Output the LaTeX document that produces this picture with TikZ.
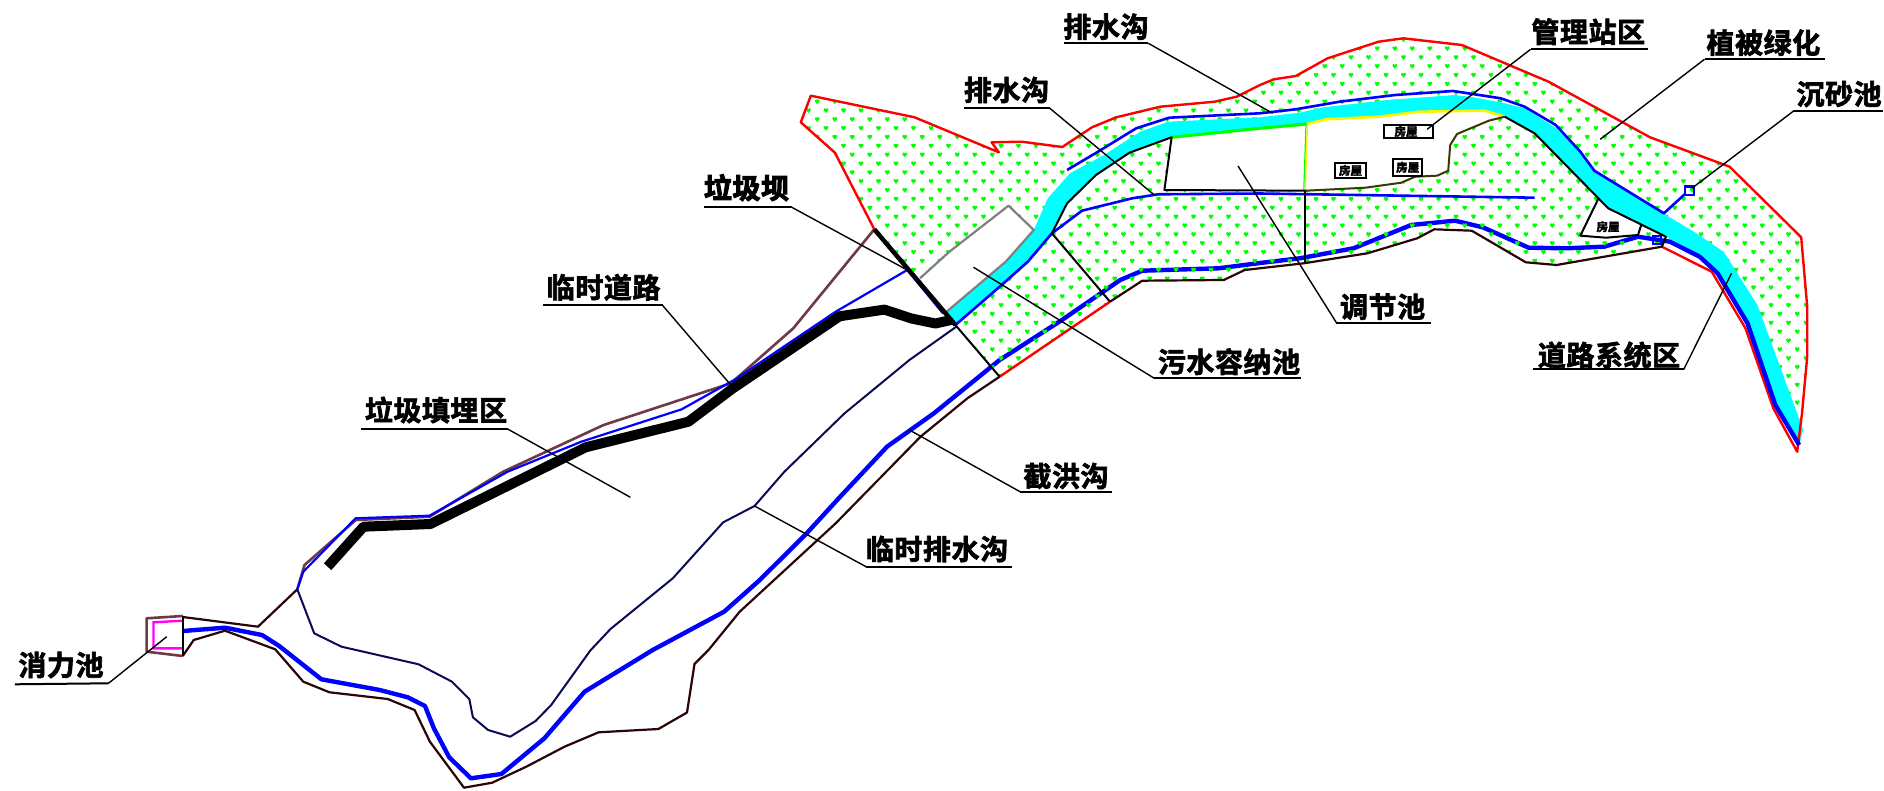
\documentclass[tikz,border=0pt]{standalone}
\usepackage{fontspec}
\newfontfamily\cjk[LetterSpace=2,FakeBold=2.4]{Noto Sans CJK SC Bold}
\newfontfamily\cjkheavy[LetterSpace=2,FakeBold=4]{Noto Sans CJK SC Bold}
\newfontfamily\cjksmall[FakeBold=3.5]{Noto Sans CJK SC Bold}
\definecolor{pgreen}{HTML}{00FF00}
\definecolor{pblue}{HTML}{0000FF}
\definecolor{pcyan}{HTML}{00FFFF}
\definecolor{pred}{HTML}{FF0000}
\definecolor{pbrown}{HTML}{6E3A46}
\definecolor{pdark}{HTML}{2A0505}
\definecolor{pnavy}{HTML}{0A0A55}
\definecolor{pmag}{HTML}{FF00FF}
\definecolor{pgrey}{HTML}{808080}
\definecolor{polive}{HTML}{3A3A00}
\tikzset{
  lab/.style={font=\cjk\fontsize{28}{28}\selectfont,inner sep=0pt,anchor=center},
  housetxt/.style={font=\cjksmall\fontsize{11.5}{11.5}\selectfont,inner sep=0pt},
  leader/.style={draw=black,line width=1.4pt,line join=round},
  under/.style={draw=black,line width=2pt},
  thinblue/.style={draw=pblue,line width=2.2pt,line join=round},
  thickblue/.style={draw=pblue,line width=4.4pt,line join=round},
  redline/.style={draw=pred,line width=2.4pt,line join=round},
  brownline/.style={draw=pbrown,line width=2.6pt,line join=round},
  darkline/.style={draw=pdark,line width=2.2pt,line join=round},
  navyline/.style={draw=pnavy,line width=2pt,line join=round},
  blackline/.style={draw=black,line width=2pt,line join=round},
  greyline/.style={draw=pgrey,line width=2.2pt,line join=round},
  housebox/.style={draw=black,line width=2.2pt,fill=white},
}
% name, text x, text y, text, shelf start, shelf end, tip
\newcommand{\callout}[7]{%
  \node[lab] (#1) at (#2,#3) {#4};
  \coordinate (#1-s) at (#5);
  \coordinate (#1-e) at (#6);
  \coordinate (#1-t) at (#7);
  \draw[leader] (#1-e) -- (#1-t);
  \draw[under] (#1-s) -- (#1-e);
}
\begin{document}
\begin{tikzpicture}[x=1pt,y=-1pt]
\useasboundingbox (0,0) rectangle (1884,791);
\fill[white] (0,0) rectangle (1884,791);

% main interception drain lies under the planting dots
\draw[thickblue] (182.8,631) -- (225,627.7) -- (262,635) -- (279.2,646) -- (321.4,679.3) -- (379.7,690) -- (407.8,697.3) -- (425,706) -- (433.9,728.3) -- (449.2,757.3) -- (470.9,778.3) -- (501.4,774) -- (544.4,738.3) -- (584.6,691.7) -- (652.7,650) -- (724.1,611.7) -- (759.8,580) -- (806.7,533.3) -- (840.2,496.7) -- (887,446.7) -- (933.9,413.3) -- (999.6,360) -- (1061.9,320) -- (1120.2,280) -- (1142.3,270.7) -- (1218.6,268.3) -- (1260,263) -- (1299.8,258.3) -- (1353.5,248.3) -- (1411.2,225) -- (1455,220.7) -- (1482.8,227.3) -- (1528.6,247.7) -- (1566.4,248.3) -- (1604.2,246.7) -- (1638,236.7);

% green dotted planted area
\begin{scope}
\clip (874.3,229.3) -- (834.9,152.7) -- (800.8,122.3) -- (810.8,95.7) -- (914.5,117.3) -- (998.8,152.3) -- (991.6,142.3) -- (1021.7,141.7) -- (1062.3,147) -- (1092,127.3) -- (1116.2,117.3) -- (1160.3,106.7) -- (1214.6,101.7) -- (1236.7,96.7) -- (1260,85) -- (1273.9,79.3) -- (1295.8,76) -- (1327.6,58.3) -- (1378.6,41.7) -- (1403.3,38.3) -- (1461.8,45) -- (1548.5,81.7) -- (1650,137.3) -- (1729.6,166.7) -- (1801.2,237.3) -- (1807.2,306.7) -- (1807.2,356.7) -- (1802,413.3) -- (1799.2,445) -- (1775.3,405) -- (1747.5,323.3) -- (1717.6,273.3) -- (1699.7,256.7) -- (1661.9,240) -- (1661.9,246.7) -- (1556.5,265) -- (1525.8,262.3) -- (1471.7,230.7) -- (1434.3,229.3) -- (1417.2,238.3) -- (1367.4,253.3) -- (1303.8,263.3) -- (1244.7,270) -- (1223.8,280) -- (1142.3,280.7) -- (1110,301.7) -- (999.6,376.7) -- (955.4,325) -- cycle;
\fill[pgreen]
  \foreach \r in {-4,...,44}{
    \foreach \c in {-40,...,19}{
      ({1491+17.5*\c+8.75*mod(\r+40,2)},{75+8.85*\r}) ++(-2.4,-1.2) -- ++(1.2,-1) -- ++(1.2,0.8) -- ++(1.2,-0.8) -- ++(1.2,1) -- ++(-0.4,1.5) -- ++(-2,2.3) -- ++(-2,-2.3) -- cycle
    }
  };
\end{scope}

% white holes: sewage pond, regulating pond and station area, house plot
\fill[white] (920,278.3) -- (949.4,251.7) -- (1008.5,205.7) -- (1033.8,230) -- (1005.7,261.7) -- (946.6,311.7) -- cycle;
\fill[white] (1171.6,137.3) -- (1307,124) -- (1325.7,119.3) -- (1379.4,116.7) -- (1419.2,111.7) -- (1484.8,110.7) -- (1504.7,116.7) -- (1488.8,120.7) -- (1457,134) -- (1450.2,145) -- (1448.2,170.7) -- (1437.1,175.7) -- (1415.2,176.7) -- (1401.3,182.7) -- (1365.5,187.7) -- (1305.8,190.7) -- (1164.4,190) -- cycle;
\fill[white] (1598.2,199) -- (1580.3,235.7) -- (1606.2,237.7) -- (1638,235) -- (1641.2,225) -- (1608.2,208.3) -- cycle;

% road system
\fill[pcyan] (946.6,311.7) -- (1005.7,261.7) -- (1033.8,230) -- (1047.8,198.3) -- (1069.9,173.3) -- (1104.1,155) -- (1140.2,131.7) -- (1168.4,121.7) -- (1260,117.3) -- (1299.8,112.7) -- (1323.7,107.3) -- (1387.3,100) -- (1455,95) -- (1472.9,97.3) -- (1502.7,102.7) -- (1524.6,108.3) -- (1556.5,128.3) -- (1580.3,153.3) -- (1596.3,171.7) -- (1618.1,186.7) -- (1665.9,215) -- (1693.8,231.7) -- (1723.6,251.7) -- (1757.4,305) -- (1803.2,430) -- (1799.2,445) -- (1775.3,405) -- (1747.5,323.3) -- (1717.6,273.3) -- (1699.7,256.7) -- (1665.9,236.7) -- (1608.2,208.3) -- (1534.6,133.3) -- (1504.7,116.7) -- (1484.8,110.7) -- (1419.2,111.7) -- (1379.4,116.7) -- (1325.7,119.3) -- (1307,124) -- (1260,128.3) -- (1171.6,137.3) -- (1129.4,152.7) -- (1096,175) -- (1067.1,203.3) -- (1051.9,233.3) -- (1027.8,261.7) -- (1001.6,285) -- (955.4,325) -- cycle;

% outer boundaries
\draw[redline] (874.3,229.3) -- (834.9,152.7) -- (800.8,122.3) -- (810.8,95.7) -- (914.5,117.3) -- (998.8,152.3) -- (991.6,142.3) -- (1021.7,141.7) -- (1062.3,147) -- (1092,127.3) -- (1116.2,117.3) -- (1160.3,106.7) -- (1214.6,101.7) -- (1236.7,96.7) -- (1260,85) -- (1273.9,79.3) -- (1295.8,76) -- (1327.6,58.3) -- (1378.6,41.7) -- (1403.3,38.3) -- (1461.8,45) -- (1548.5,81.7) -- (1650,137.3) -- (1729.6,166.7) -- (1801.2,237.3) -- (1807.2,306.7) -- (1807.2,356.7) -- (1802,413.3) -- (1797.2,451.7) -- (1773.3,408.3) -- (1745.5,328.3) -- (1711.7,271.7) -- (1661.9,246.7);
\draw[darkline] (1661.9,246.7) -- (1556.5,265) -- (1525.8,262.3) -- (1471.7,230.7) -- (1434.3,229.3) -- (1417.2,238.3) -- (1367.4,253.3) -- (1303.8,263.3) -- (1244.7,270) -- (1223.8,280) -- (1142.3,280.7) -- (1110,301.7);
\draw[redline] (1110,301.7) -- (999.6,376.7);
\draw[darkline] (999.6,376.7) -- (967.4,398.3) -- (920.5,436.7) -- (835.7,523.3) -- (739.7,611.7) -- (708.5,650) -- (694.5,664) -- (687,712.5) -- (658.4,729) -- (598.6,732.3) -- (564.5,746.7) -- (526.3,766.7) -- (492.2,782.7) -- (464,787.7) -- (429.9,741.7) -- (414.6,710) -- (387.7,699) -- (329.5,692.3) -- (303.3,681.7) -- (275.2,649.3) -- (225,630.7) -- (193.7,640) -- (182.8,656);
\draw[darkline] (182.8,617) -- (258,626.7) -- (297.3,589.3);
\draw[brownline] (297.3,589.3) -- (304.5,565) -- (355.8,520) -- (429.5,516.7) -- (503.1,471.7) -- (603.6,425) -- (730.8,383.3) -- (793.3,328.3) -- (874.3,229.3);

% energy dissipation basin
\draw[brownline] (182.8,616) -- (146.6,618.3) -- (146.6,651.7) -- (182.8,656);
\draw[draw=pmag,line width=2.4pt] (182.8,620.7) -- (153.5,622.3) -- (153.5,648.3) -- (182.8,648.3);
\draw[blackline] (182.8,616) -- (182.8,656);

% drains
\draw[thinblue] (297.3,589.3) -- (303.3,571.7) -- (355.6,518.3) -- (429.5,515.7) -- (507.6,471.7) -- (581.3,441.7) -- (681.7,409.3) -- (735.3,379.3) -- (835.7,311.7) -- (907.2,270) -- (942.9,313.3);
\draw[thickblue] (1638,236.7) -- (1669.9,241.7) -- (1699.7,256.7) -- (1717.6,273.3) -- (1747.5,323.3) -- (1775.3,405) -- (1799.2,445);
\draw[thinblue,line width=2.6pt] (1067.1,170) -- (1098,151.7) -- (1136.2,128.3) -- (1169.2,117.7) -- (1260,113.3) -- (1295.8,109.3) -- (1339.6,101.7) -- (1395.3,95) -- (1453,91) -- (1500.7,98.3) -- (1524.6,106.7) -- (1555.7,125) -- (1580.3,151.7) -- (1594.3,170.7) -- (1663.9,213.3) -- (1685.8,193.3);
\draw[thinblue,line width=2.6pt] (955.4,325) -- (1001.6,285) -- (1027.8,261.7) -- (1051.9,233.3) -- (1082,210.7) -- (1132.2,198.3) -- (1158.3,194.3) -- (1260,193.5) -- (1534.6,197.7);
\draw[draw=pblue,line width=2.2pt] (1685.3,186.5) rectangle (1694,195);
\draw[draw=pblue,line width=2.2pt] (1653,236) rectangle (1661,244);

% pond and plot edges
\draw[greyline] (946.6,311.7) -- (1005.7,261.7) -- (1033.8,230) -- (1008.5,205.7) -- (949.4,251.7) -- (920,278.3);
\draw[draw=pgreen,line width=3pt] (1171.6,137.3) -- (1260,128.3) -- (1307,124);
\draw[draw=yellow,line width=2.6pt] (1307,124) -- (1325.7,119.3) -- (1379.4,116.7) -- (1419.2,111.7) -- (1484.8,110.7) -- (1504.7,116.7);
\draw[draw=pgreen,line width=1.2pt] (1306,124) -- (1303.8,190);
\draw[draw=yellow,line width=1.4pt] (1307.4,124) -- (1305.2,190);
\draw[blackline] (1051.9,233.3) -- (1067.1,203.3) -- (1096,175) -- (1129.4,152.7) -- (1171.6,137.3) -- (1164.4,190) -- (1305.8,190.7);
\draw[draw=polive,line width=2pt,line join=round] (1305.8,190.7) -- (1365.5,187.7) -- (1401.3,182.7) -- (1415.2,176.7) -- (1437.1,175.7) -- (1448.2,170.7) -- (1450.2,145) -- (1457,134) -- (1488.8,120.7) -- (1504.7,116.7);
\draw[blackline] (1504.7,116.7) -- (1534.6,133.3) -- (1608.2,208.3) -- (1665.9,236.7) -- (1661.9,246.7);
\draw[blackline] (1305,190.7) -- (1305,263.3);
\draw[blackline] (1051.9,233.3) -- (1110,301.7);

% temporary inner drain
\draw[navyline] (297.3,589.3) -- (314.2,633.3) -- (341.5,646.7) -- (418.6,664.3) -- (452,681.7) -- (469.3,699) -- (472.9,717.3) -- (488.1,730) -- (510.2,736.7) -- (535.6,721) -- (551.2,705) -- (590.4,650.4) -- (610.5,629) -- (672.8,578.3) -- (723.2,522.3) -- (754.5,506) -- (784.4,471.7) -- (844.6,413.3) -- (909.4,360) -- (956.3,326.7);

% temporary road and dam
\draw[draw=black,line width=10pt,line join=round] (327.6,566.7) -- (363.5,526.7) -- (430.4,524) -- (585.7,447.3) -- (688.4,421.7) -- (733,388.3) -- (839.5,316.3) -- (884.4,309.6) -- (911.4,318.5) -- (935.5,323.5) -- (951,320);
\draw[draw=black,line width=4.5pt] (874.3,229.3) -- (955.4,325);
\draw[blackline] (955.4,325) -- (999.6,376.7);

% houses
\node[housebox,minimum width=49pt,minimum height=13pt,inner sep=0pt] (h1) at (1408.7,131.3) {};
\node[housetxt] (h1t) at (1406,131.5) {房屋};
\node[housebox,minimum width=31pt,minimum height=14.5pt,inner sep=0pt] (h2) at (1350.5,170.5) {};
\node[housetxt] (h2t) at (1350.5,170.5) {房屋};
\node[housebox,minimum width=29pt,minimum height=17pt,inner sep=0pt] (h3) at (1407.7,167.3) {};
\node[housetxt] (h3t) at (1407.7,167.3) {房屋};
\draw[blackline] (1598.2,199) -- (1580.3,235.7) -- (1606.2,237.7) -- (1638,235) -- (1641.2,225);
\node[housetxt] (h4t) at (1608,226.7) {房屋};

% labels and leaders
\callout{xiaoli}{61}{665}{消力池}{14.9,684.3}{108.5,683.3}{166.7,636.7}
\callout{tianmai}{436}{410}{垃圾填埋区}{361.2,429}{507.6,429}{630.4,497.3}
\callout{daolu}{603.6}{287.3}{临时道路}{543.3,305.3}{662.5,305.3}{730.8,385}
\callout{laji}{746.5}{187.7}{\cjkheavy\fontsize{28}{28}\selectfont 垃圾坝}{704.3,206.7}{790.7,206.7}{907.2,270}
\callout{paishuiA}{1106}{26.7}{排水沟}{1063.9,43.3}{1148.3,43.3}{1272.7,113.3}
\callout{paishuiB}{1006.5}{90}{排水沟}{964.3,108.3}{1049.8,108.3}{1154.3,195}
\callout{wushui}{1229}{361.7}{污水容纳池}{1301,378.3}{1154.3,378.3}{973.5,267.3}
\callout{tiaojie}{1382.6}{306.7}{调节池}{1431.1,322.7}{1336.4,322.7}{1238,166}
\callout{guanli}{1588.3}{31.7}{管理站区}{1648,49.3}{1530.6,49.3}{1427.1,129.3}
\callout{zhibei}{1763.4}{42.7}{植被绿化}{1825,59.3}{1704.5,59.3}{1600.2,139.3}
\callout{chensha}{1839}{94}{沉砂池}{1882.8,110.7}{1794,110.7}{1691.8,188.3}
\callout{luxi}{1609}{355}{道路系统区}{1533.4,369.3}{1683.8,369.3}{1731.5,273.3}
\callout{jiehong}{1066}{476}{截洪沟}{1112,491.7}{1020,491.7}{909.4,430}
\callout{linshi}{937}{549}{临时排水沟}{1011.6,566.7}{866,566.7}{754.5,506}
\end{tikzpicture}
\end{document}
